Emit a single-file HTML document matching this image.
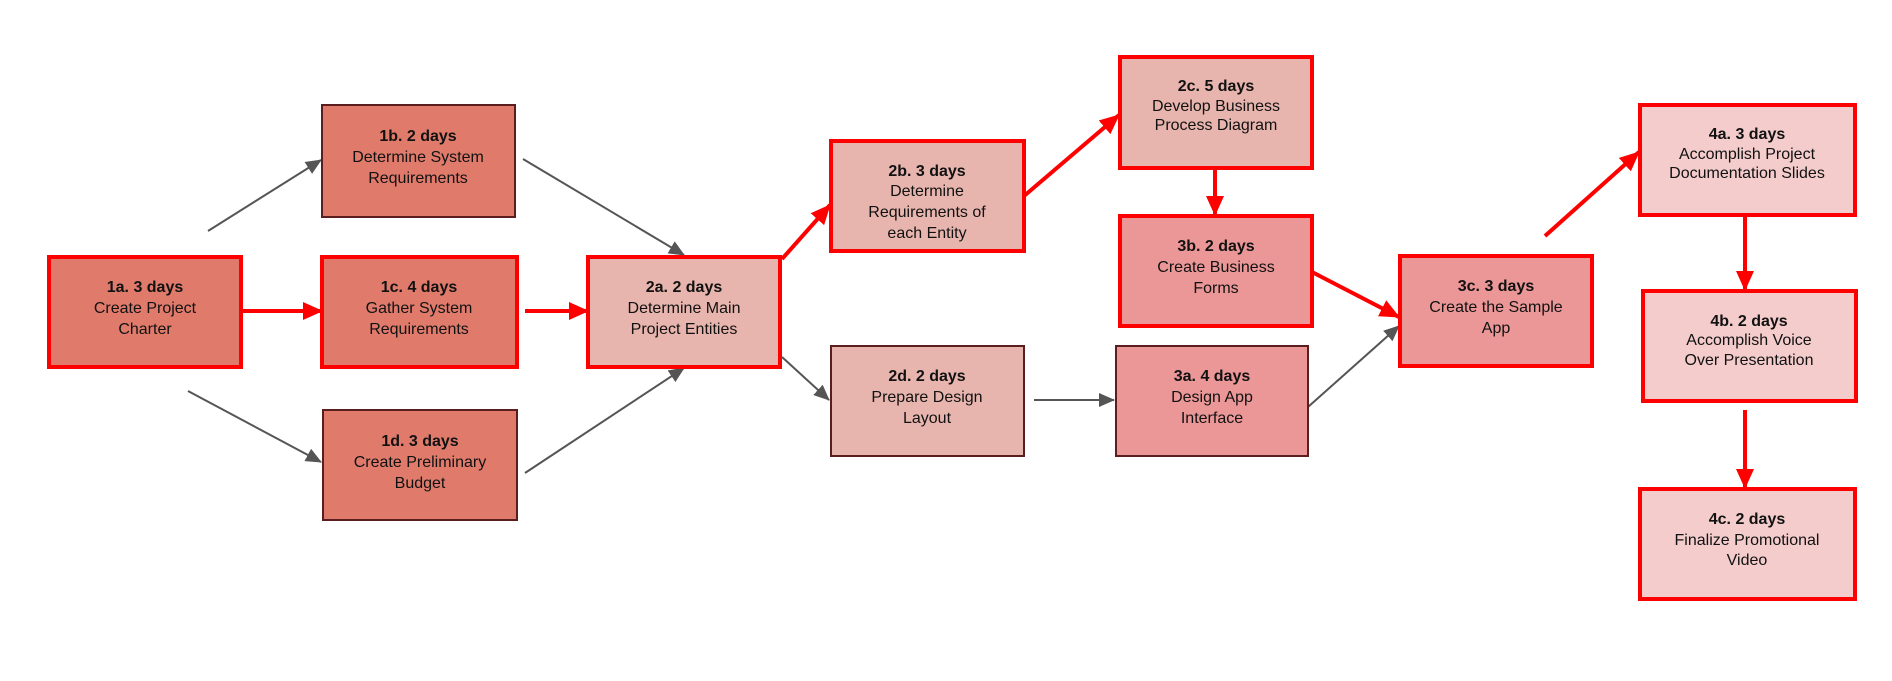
<!DOCTYPE html>
<html><head><meta charset="utf-8"><style>
html,body{margin:0;padding:0;background:#fff;}
svg{display:block;}
text{font-family:"Liberation Sans",Arial,sans-serif;font-size:16px;fill:#111;text-anchor:middle;}
.b{font-weight:bold;}
</style></head><body>
<svg width="1892" height="681" viewBox="0 0 1892 681" xmlns="http://www.w3.org/2000/svg">
<defs>
<marker id="ar" markerWidth="10" markerHeight="10" refX="9" refY="5" orient="auto" markerUnits="userSpaceOnUse"><path d="M0,0 L10,5 L0,10 z" fill="#ff0000" transform="scale(2) translate(-5,-2.5)"/></marker>
<marker id="ag" markerWidth="16" markerHeight="14" refX="15" refY="7" orient="auto" markerUnits="userSpaceOnUse"><path d="M0,0 L16,7 L0,14 z" fill="#555"/></marker>
<marker id="rr" markerWidth="20" markerHeight="18" refX="19" refY="9" orient="auto" markerUnits="userSpaceOnUse"><path d="M0,0 L20,9 L0,18 z" fill="#ff0000"/></marker>
</defs>
<!-- gray connectors -->
<g stroke="#555" stroke-width="2" fill="none">
<line x1="208" y1="231" x2="321" y2="160" marker-end="url(#ag)"/>
<line x1="523" y1="159" x2="684" y2="255" marker-end="url(#ag)"/>
<line x1="188" y1="391" x2="321" y2="462" marker-end="url(#ag)"/>
<line x1="525" y1="473" x2="684" y2="368" marker-end="url(#ag)"/>
<line x1="782" y1="357" x2="829" y2="400" marker-end="url(#ag)"/>
<line x1="1034" y1="400" x2="1114" y2="400" marker-end="url(#ag)"/>
<line x1="1308" y1="407" x2="1399" y2="326" marker-end="url(#ag)"/>
</g>
<!-- red connectors -->
<g stroke="#ff0000" stroke-width="4" fill="none">
<line x1="241" y1="311" x2="322" y2="311" marker-end="url(#rr)"/>
<line x1="525" y1="311" x2="588" y2="311" marker-end="url(#rr)"/>
<line x1="782" y1="259" x2="830" y2="205" marker-end="url(#rr)"/>
<line x1="1024" y1="196" x2="1119" y2="115" marker-end="url(#rr)"/>
<line x1="1215" y1="168" x2="1215" y2="215" marker-end="url(#rr)"/>
<line x1="1312" y1="272" x2="1399" y2="317" marker-end="url(#rr)"/>
<line x1="1545" y1="236" x2="1639" y2="152" marker-end="url(#rr)"/>
<line x1="1745" y1="216" x2="1745" y2="290" marker-end="url(#rr)"/>
<line x1="1745" y1="410" x2="1745" y2="488" marker-end="url(#rr)"/>
</g>
<!-- nodes -->
<g>
<rect x="49" y="257" width="192" height="110" fill="#e07b6c" stroke="#ff0000" stroke-width="4"/>
<text class="b" x="145" y="292">1a. 3 days</text><text x="145" y="313">Create Project</text><text x="145" y="334">Charter</text>

<rect x="322" y="105" width="193" height="112" fill="#e07b6c" stroke="#5a1e1e" stroke-width="2"/>
<text class="b" x="418" y="141">1b. 2 days</text><text x="418" y="162">Determine System</text><text x="418" y="183">Requirements</text>

<rect x="322" y="257" width="195" height="110" fill="#e07b6c" stroke="#ff0000" stroke-width="4"/>
<text class="b" x="419" y="292">1c. 4 days</text><text x="419" y="313">Gather System</text><text x="419" y="334">Requirements</text>

<rect x="323" y="410" width="194" height="110" fill="#e07b6c" stroke="#5a1e1e" stroke-width="2"/>
<text class="b" x="420" y="446">1d. 3 days</text><text x="420" y="467">Create Preliminary</text><text x="420" y="488">Budget</text>

<rect x="588" y="257" width="192" height="110" fill="#e8b5ae" stroke="#ff0000" stroke-width="4"/>
<text class="b" x="684" y="292">2a. 2 days</text><text x="684" y="313">Determine Main</text><text x="684" y="334">Project Entities</text>

<rect x="831" y="141" width="193" height="110" fill="#e8b5ae" stroke="#ff0000" stroke-width="4"/>
<text class="b" x="927" y="176">2b. 3 days</text><text x="927" y="196">Determine</text><text x="927" y="217">Requirements of</text><text x="927" y="238">each Entity</text>

<rect x="831" y="346" width="193" height="110" fill="#e8b5ae" stroke="#5a1e1e" stroke-width="2"/>
<text class="b" x="927" y="381">2d. 2 days</text><text x="927" y="402">Prepare Design</text><text x="927" y="423">Layout</text>

<rect x="1120" y="57" width="192" height="111" fill="#e8b5ae" stroke="#ff0000" stroke-width="4"/>
<text class="b" x="1216" y="91">2c. 5 days</text><text x="1216" y="111">Develop Business</text><text x="1216" y="130">Process Diagram</text>

<rect x="1120" y="216" width="192" height="110" fill="#ec9797" stroke="#ff0000" stroke-width="4"/>
<text class="b" x="1216" y="251">3b. 2 days</text><text x="1216" y="272">Create Business</text><text x="1216" y="293">Forms</text>

<rect x="1116" y="346" width="192" height="110" fill="#ec9797" stroke="#5a1e1e" stroke-width="2"/>
<text class="b" x="1212" y="381">3a. 4 days</text><text x="1212" y="402">Design App</text><text x="1212" y="423">Interface</text>

<rect x="1400" y="256" width="192" height="110" fill="#ec9797" stroke="#ff0000" stroke-width="4"/>
<text class="b" x="1496" y="291">3c. 3 days</text><text x="1496" y="312">Create the Sample</text><text x="1496" y="333">App</text>

<rect x="1640" y="105" width="215" height="110" fill="#f4cccc" stroke="#ff0000" stroke-width="4"/>
<text class="b" x="1747" y="139">4a. 3 days</text><text x="1747" y="159">Accomplish Project</text><text x="1747" y="178">Documentation Slides</text>

<rect x="1643" y="291" width="213" height="110" fill="#f4cccc" stroke="#ff0000" stroke-width="4"/>
<text class="b" x="1749" y="326">4b. 2 days</text><text x="1749" y="345">Accomplish Voice</text><text x="1749" y="365">Over Presentation</text>

<rect x="1640" y="489" width="215" height="110" fill="#f4cccc" stroke="#ff0000" stroke-width="4"/>
<text class="b" x="1747" y="524">4c. 2 days</text><text x="1747" y="545">Finalize Promotional</text><text x="1747" y="565">Video</text>
</g>
</svg>
</body></html>
